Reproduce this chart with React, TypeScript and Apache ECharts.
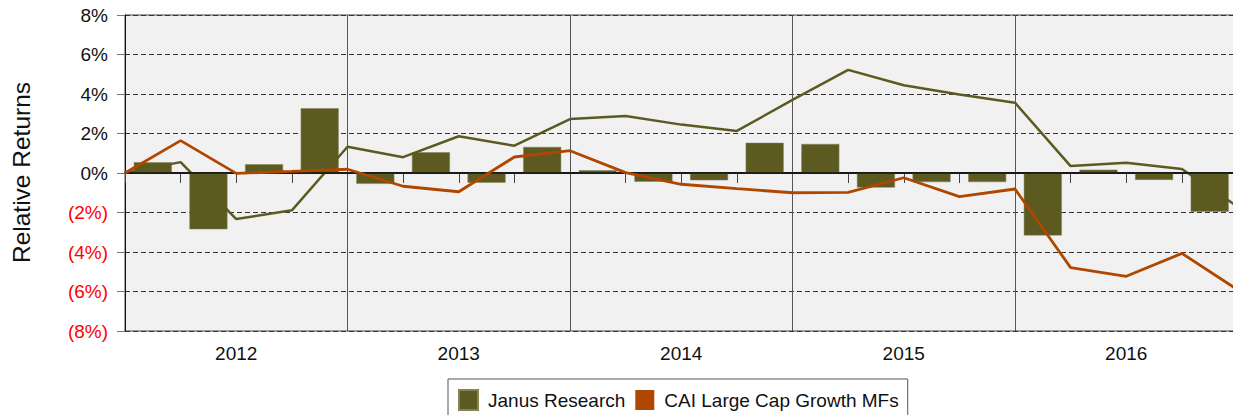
import React, { useEffect, useRef } from "react";
import * as echarts from "echarts";

const years = ["2012", "2013", "2014", "2015", "2016"];
const firstYear = 2012;
// Quarterly relative returns (bars), one per quarter 2012Q1..2016Q4
const janusQuarterly = [
  0.54, -2.85, 0.44, 3.28,
  -0.55, 1.05, -0.49, 1.32,
  0.14, -0.44, -0.37, 1.53,
  1.47, -0.74, -0.46, -0.46,
  -3.16, 0.17, -0.35, -1.96,
];
// Cumulative relative returns at quarter boundaries (start + 20 quarter ends)
const janusCumulative = [
  0, 0.55, -2.33, -1.89, 1.33,
  0.8, 1.86, 1.38, 2.73,
  2.89, 2.45, 2.13, 3.7,
  5.22, 4.44, 3.97, 3.56,
  0.35, 0.52, 0.2, -1.7,
];
const caiCumulative = [
  0, 1.64, -0.02, 0.08, 0.19,
  -0.67, -0.95, 0.81, 1.13,
  0.02, -0.57, -0.79, -1.0,
  -0.98, -0.24, -1.2, -0.81,
  -4.79, -5.23, -4.07, -5.91,
];
const yTicks = [-8, -6, -4, -2, 0, 2, 4, 6, 8];
const yearBoundaries = [4, 8, 12, 16];

const GREEN = "#5c5a20";
const ORANGE = "#b04700";
const FONT = "Liberation Sans, Arial, sans-serif";

export default function App() {
  const ref = useRef<HTMLDivElement>(null);
  useEffect(() => {
    if (!ref.current) return;
    const chart = echarts.init(ref.current, undefined, { renderer: "svg" });
    const fmtY = (v: number) => (v >= 0 ? `${v}%` : `(${-v}%)`);
    chart.setOption({
      animation: false,
      textStyle: { fontFamily: FONT },
      grid: {
        left: 125,
        right: 12.5,
        top: 15,
        bottom: 84,
        show: true,
        backgroundColor: "#f1f1f1",
        borderColor: "#444",
        borderWidth: 1,
      },
      legend: {
        data: [
          { name: "Janus Research", icon: "rect" },
          { name: "CAI Large Cap Growth MFs", icon: "rect" },
        ],
        left: 448,
        top: 379,
        padding: [10, 9, 10, 10],
        itemWidth: 19,
        itemHeight: 20,
        itemGap: 10,
        borderColor: "#555",
        borderWidth: 1,
        textStyle: {
          fontSize: 19,
          color: "#111",
          fontFamily: FONT,
          padding: [0, 0, 0, 5],
        },
      },
      graphic: [
        {
          type: "text",
          x: 21,
          y: 172.5,
          rotation: Math.PI / 2,
          style: {
            text: "Relative Returns",
            fontSize: 24.5,
            fontFamily: FONT,
            fill: "#111",
            align: "center",
            verticalAlign: "middle",
          },
        },
      ],
      xAxis: {
        type: "value",
        min: 0,
        max: 20,
        interval: 1,
        axisLine: { show: true, lineStyle: { color: "#333", width: 2 } },
        axisTick: { show: true, length: 10, lineStyle: { color: "#444", width: 1 } },
        splitLine: { show: false },
        axisLabel: {
          margin: 13,
          fontSize: 19,
          color: "#111",
          fontFamily: FONT,
          showMinLabel: true,
          showMaxLabel: true,
          formatter: (v: number) =>
            v % 4 === 2 ? years[(v - 2) / 4] ?? String(firstYear + (v - 2) / 4) : "",
        },
      },
      yAxis: {
        type: "value",
        min: yTicks[0],
        max: yTicks[yTicks.length - 1],
        interval: 2,
        axisLine: { show: true, lineStyle: { color: "#111", width: 1 } },
        axisTick: { show: true, length: 8, lineStyle: { color: "#777", width: 1 } },
        splitLine: {
          show: true,
          lineStyle: { color: "#333", type: [5, 3], width: 1 },
        },
        axisLabel: {
          margin: 17,
          fontSize: 19,
          fontFamily: FONT,
          formatter: fmtY,
          color: (v: any) => (Number(v) < 0 ? "#ff0000" : "#111"),
        },
      },
      series: [
        {
          name: "Janus Research",
          type: "bar",
          barWidth: 38,
          itemStyle: { color: GREEN, borderColor: "#85835a", borderWidth: 0.5 },
          data: janusQuarterly.map((v, i) => [i + 0.5, v]),
          z: 2,
          markLine: {
            silent: true,
            symbol: "none",
            label: { show: false },
            data: [
              ...yearBoundaries.map((x) => ({
                xAxis: x,
                lineStyle: { color: "#555", type: "solid", width: 1 },
              })),
              { yAxis: 0, lineStyle: { color: "#111", type: "solid", width: 1.5 } },
            ],
          },
        },
        {
          name: "Janus Research Cumulative",
          type: "line",
          symbol: "none",
          lineStyle: { color: GREEN, width: 2.5 },
          itemStyle: { color: GREEN },
          data: janusCumulative.map((v, i) => [i, v]),
          z: 4,
        },
        {
          name: "CAI Large Cap Growth MFs",
          type: "line",
          symbol: "none",
          lineStyle: { color: ORANGE, width: 2.8 },
          itemStyle: { color: ORANGE },
          data: caiCumulative.map((v, i) => [i, v]),
          z: 5,
        },
      ],
    });
    return () => chart.dispose();
  }, []);
  return (
    <div
      style={{
        position: "absolute",
        left: 0,
        top: 0,
        width: 1233,
        height: 415,
        overflow: "hidden",
      }}
    >
      <div ref={ref} style={{ width: 1250, height: 415 }} />
    </div>
  );
}
